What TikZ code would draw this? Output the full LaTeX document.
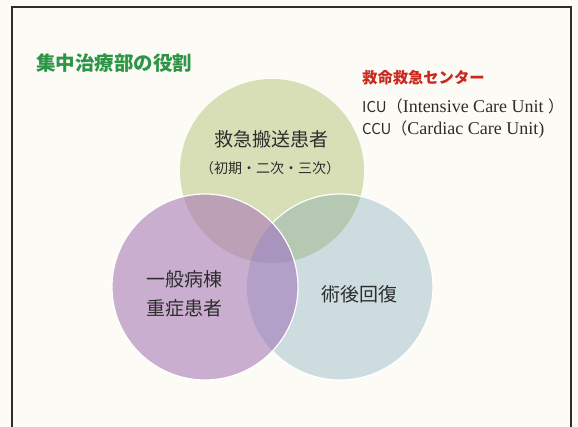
\documentclass[tikz,border=0pt]{standalone}
\usepackage{fontspec}
\newfontfamily\jp{Noto Sans CJK JP}
\newfontfamily\lserif{Liberation Serif}
\definecolor{bgc}{RGB}{252,251,245}
\definecolor{frame}{RGB}{45,45,45}
\definecolor{cG}{RGB}{216,223,182}
\definecolor{cP}{RGB}{202,174,207}
\definecolor{cB}{RGB}{205,220,223}
\definecolor{cPG}{RGB}{188,160,182}
\definecolor{cBG}{RGB}{180,200,178}
\definecolor{cPB}{RGB}{178,160,200}
\definecolor{cPBG}{RGB}{168,148,188}
\definecolor{titlegreen}{RGB}{45,150,70}
\definecolor{titlered}{RGB}{200,40,30}
\definecolor{txt}{RGB}{45,45,45}
\tikzset{
  lbl/.style={font=\jp\fontsize{19}{21}\selectfont, text=txt, inner sep=0pt},
  sublbl/.style={font=\jp\fontsize{14}{16}\selectfont, text=txt, inner sep=0pt},
  note/.style={text=txt, inner sep=0pt, anchor=west},
}
\newcommand\smallsans{\jp\fontsize{15}{17}\selectfont}
\newcommand\bigserif{\lserif\fontsize{18}{20}\selectfont}
\newcommand\parenfont{\jp\fontsize{16}{18}\selectfont}
\begin{document}
\begin{tikzpicture}[x=1pt,y=-1pt]
\useasboundingbox (0,0) rectangle (578,426);
\fill[bgc] (0,0) rectangle (578,426);
\draw[frame, line width=2.5pt] (12,440) -- (12,7) -- (571,7) -- (571,440);
\def\gc{(272,171) circle[radius=92]}
\def\pc{(205,287) circle[radius=93]}
\def\bc{(340,287) circle[radius=93]}
% green
\fill[cG] \gc;
% blue
\fill[cB] \bc;
\begin{scope}\clip \bc; \fill[cBG] \gc; \end{scope}
\draw[white, line width=1.2pt] \bc;
% purple
\fill[cP] \pc;
\begin{scope}\clip \pc;
  \fill[cPG] \gc;
  \fill[cPB] \bc;
  \begin{scope}\clip \gc; \fill[cPBG] \bc; \end{scope}
\end{scope}
\draw[white, line width=1.2pt] \pc;
% texts
\node[anchor=west, inner sep=0pt, text=titlegreen, font=\jp\bfseries\fontsize{19.5}{21}\selectfont] (title) at (36,63) {集中治療部の役割};
\node[anchor=west, inner sep=0pt, text=titlered, font=\jp\bfseries\fontsize{15.3}{17}\selectfont] (center) at (362,78) {救命救急センター};
\node[note] (icu) at (362,106) {{\smallsans ICU}{\parenfont （}{\bigserif Intensive Care Unit }{\parenfont ）}};
\node[note] (ccu) at (362,130) {{\smallsans CCU}{\parenfont （}{\bigserif Cardiac Care Unit)}};
\node[lbl] (kyukyu) at (271,139) {救急搬送患者};
\node[sublbl] (shoki) at (270,168) {（初期・二次・三次）};
\node[lbl] (ippan) at (184,279) {一般病棟};
\node[lbl] (jusho) at (184,308) {重症患者};
\node[lbl] (jutsugo) at (359,294) {術後回復};
\end{tikzpicture}
\end{document}
